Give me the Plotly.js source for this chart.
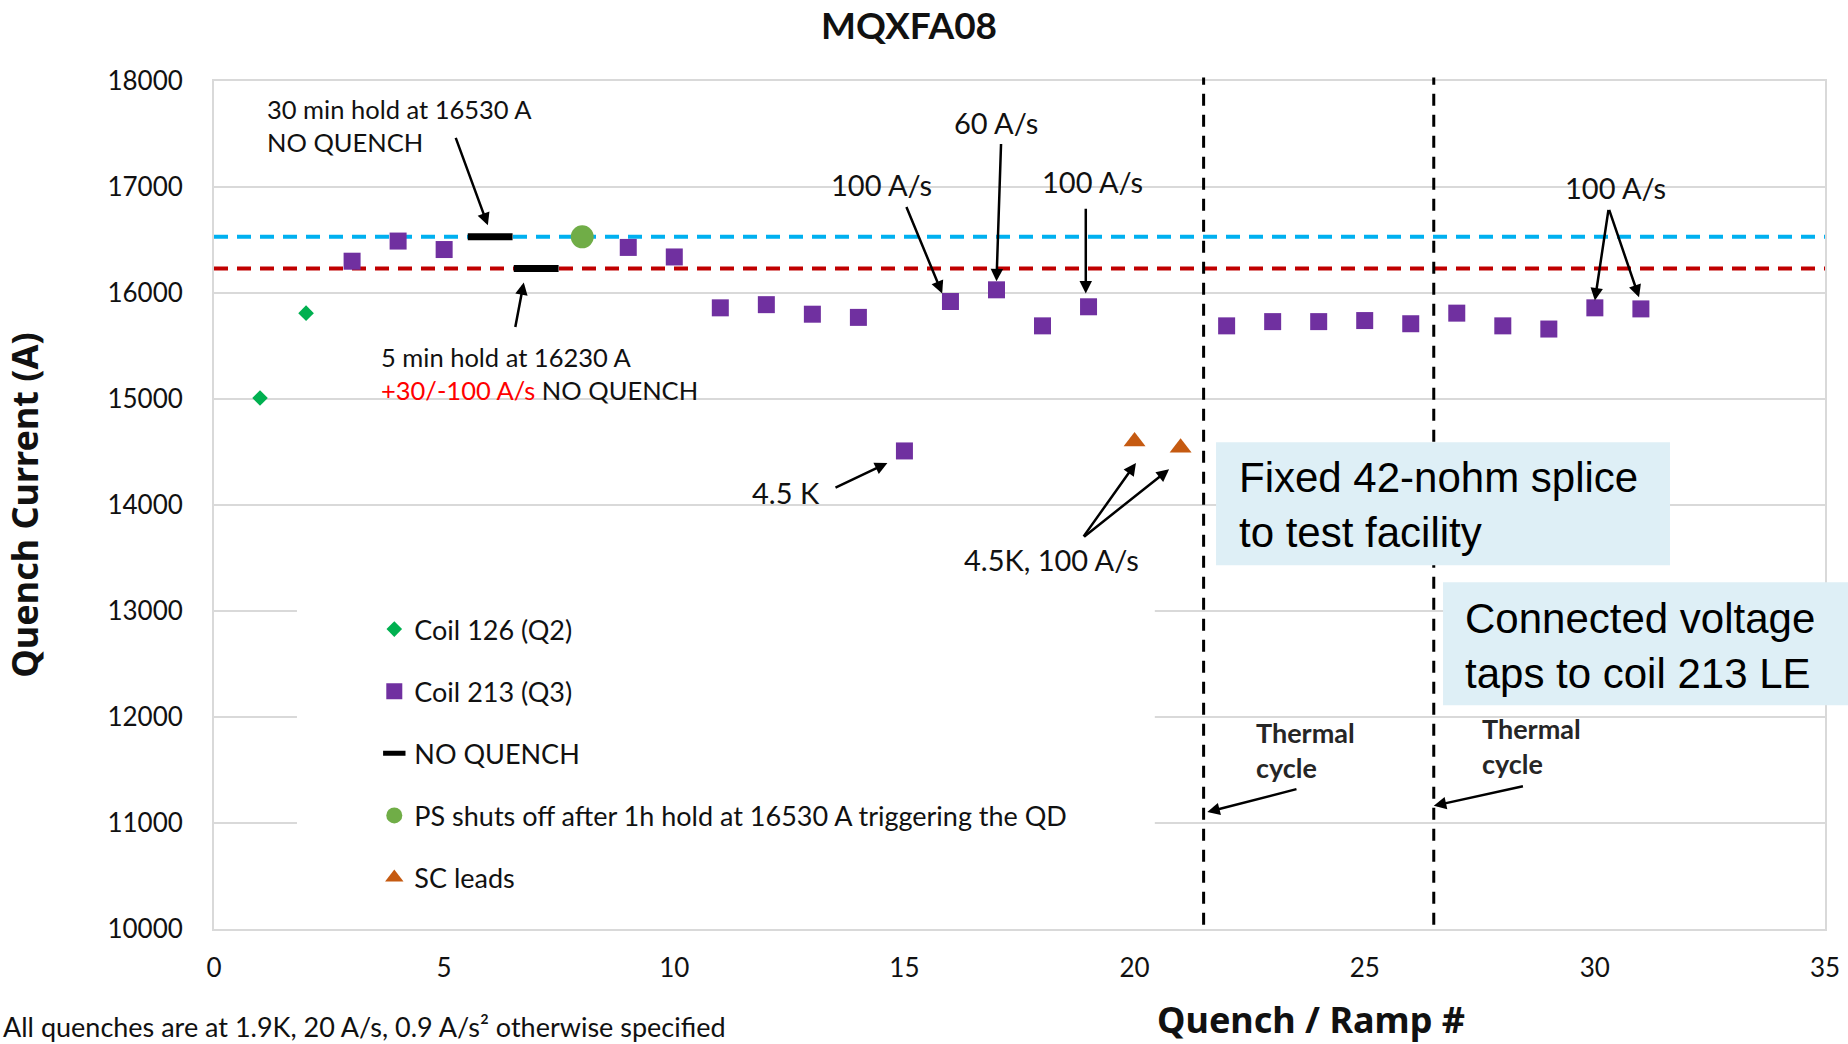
<!DOCTYPE html>
<html>
<head>
<meta charset="utf-8">
<script src="https://cdn.plot.ly/plotly-3.0.1.min.js"></script>
<style>
  html, body { margin: 0; padding: 0; background: #ffffff; }
  #chart { width: 1848px; height: 1044px; }
</style>
</head>
<body>
<div id="chart"></div>
<script>
// ---------------- data ----------------
const coil126X = [1, 2];
const coil126Y = [15010, 15810];

const coil213X = [3, 4, 5, 9, 10, 11, 12, 13, 14, 15, 16, 17, 18, 19, 22, 23, 24, 25, 26, 27, 28, 29, 30, 31];
const coil213Y = [16300, 16490, 16410, 16430, 16340, 15860, 15890, 15800, 15770, 14510, 15920, 16030, 15690, 15870,
                  15690, 15730, 15730, 15740, 15710, 15810, 15690, 15660, 15860, 15850];

const noQuenchX = [6, 7];
const noQuenchY = [16530, 16230];

const psOffX = [8];
const psOffY = [16530];

const scLeadsX = [20, 21];
const scLeadsY = [14600, 14540];

const holdLevels = [16530, 16230];          // dashed reference lines
const thermalCycleX = [21.5, 26.5];         // vertical dashed lines

const seriesNames = ['Coil 126 (Q2)', 'Coil 213 (Q3)', 'NO QUENCH',
  'PS shuts off after 1h hold at 16530 A triggering the QD', 'SC leads'];

const xTickVals = [0, 5, 10, 15, 20, 25, 30, 35];
const yTickVals = [10000, 11000, 12000, 13000, 14000, 15000, 16000, 17000, 18000];

// ---------------- styling ----------------
const FONT = 'Lato, "Open Sans", sans-serif';
const TXT = '#111111';

const traces = [
  { x: coil126X, y: coil126Y, name: seriesNames[0], mode: 'markers', type: 'scatter', legendgroup: 'g1',
    marker: { symbol: 'diamond', size: 12, color: '#00B050' } },
  { x: coil213X, y: coil213Y, name: seriesNames[1], mode: 'markers', type: 'scatter', legendgroup: 'g2',
    marker: { symbol: 'square', size: 17, color: '#7030A0' } },
  { x: noQuenchX, y: noQuenchY, name: seriesNames[2], mode: 'markers', type: 'scatter', legendgroup: 'g3',
    marker: { symbol: 'line-ew', size: 32, color: '#000000', line: { width: 7, color: '#000000' } } },
  { x: psOffX, y: psOffY, name: seriesNames[3], mode: 'markers', type: 'scatter', legendgroup: 'g4',
    marker: { symbol: 'circle', size: 23, color: '#70AD47' } },
  { x: scLeadsX, y: scLeadsY, name: seriesNames[4], mode: 'markers', type: 'scatter', legendgroup: 'g5',
    marker: { symbol: 'triangle-up', size: 19, color: '#C55A11' } }
];

const lineColors = ['#00B0F0', '#C00000'];
const shapes = [];
// white area behind legend (hides gridlines like the original)
shapes.push({ type: 'rect', xref: 'paper', yref: 'paper', x0: 0.0515, x1: 0.584, y0: 0.003, y1: 0.444,
  fillcolor: '#ffffff', line: { width: 0 }, layer: 'above' });
holdLevels.forEach((v, i) => shapes.push({
  type: 'line', xref: 'paper', yref: 'y', x0: 0, x1: 1, y0: v, y1: v,
  line: { color: lineColors[i], width: 4, dash: '14px,9px' }, layer: 'between'
}));
thermalCycleX.forEach(v => shapes.push({
  type: 'line', xref: 'x', yref: 'paper', x0: v, x1: v, y0: 0.005, y1: 1.004,
  line: { color: '#000000', width: 3, dash: '12px,9px' }, layer: 'above'
}));
// light-blue note boxes
shapes.push({ type: 'rect', xref: 'paper', yref: 'paper', x0: 0.622, x1: 0.9038, y0: 0.429, y1: 0.574,
  fillcolor: '#DEEFF6', line: { width: 0 }, layer: 'above' });
shapes.push({ type: 'rect', xref: 'paper', yref: 'paper', x0: 0.7629, x1: 1.03, y0: 0.264, y1: 0.409,
  fillcolor: '#DEEFF6', line: { width: 0 }, layer: 'above' });

const annFont = { family: FONT, size: 25.5, color: TXT };
const rateFont = { family: FONT, size: 29, color: TXT };
const cycleFont = { family: FONT, size: 27, weight: 'bold', color: '#262626' };
function txt(x, y, text, xanchor, font) {
  return { x: x, y: y, xref: 'x', yref: 'y', text: text, showarrow: false,
    xanchor: xanchor || 'center', yanchor: 'middle', align: xanchor === 'left' ? 'left' : 'center',
    font: font || annFont };
}
function arrow(tx, ty, hx, hy) {
  return { x: hx, y: hy, ax: tx, ay: ty, xref: 'x', yref: 'y', axref: 'x', ayref: 'y',
    text: '', showarrow: true, arrowhead: 2, arrowsize: 1, arrowwidth: 2.5, arrowcolor: '#000000',
    standoff: 0, startstandoff: 0 };
}

const annotations = [
  txt(1.10, 17580, '30 min hold at 16530 A<br>NO QUENCH', 'left'),
  arrow(5.24, 17477, 5.95, 16638),
  txt(3.595, 15242, '5 min hold at 16230 A<br><span style="color:#FF0000">+30/-100 A/s</span> NO QUENCH', 'left'),
  arrow(6.54, 15666, 6.73, 16100),
  txt(14.51, 17024, '100 A/s', 'center', rateFont),
  arrow(15.03, 16826, 15.82, 15996),
  txt(16.98, 17609, '60 A/s', 'center', rateFont),
  arrow(17.1, 17420, 17.0, 16110),
  txt(19.08, 17052, '100 A/s', 'center', rateFont),
  arrow(18.94, 16808, 18.94, 15996),
  txt(30.44, 16996, '100 A/s', 'center', rateFont),
  arrow(30.3, 16798, 30.0, 15930),
  arrow(30.3, 16798, 30.96, 15959),
  txt(12.42, 14115, '4.5 K', 'center', rateFont),
  arrow(13.47, 14158, 14.63, 14397),
  txt(18.20, 13488, '4.5K, 100 A/s', 'center', rateFont),
  arrow(18.87, 13690, 20.03, 14397),
  arrow(18.87, 13690, 20.75, 14337),
  txt(22.59, 11688, 'Thermal<br>cycle', 'left', cycleFont),
  arrow(23.55, 11323, 21.58, 11103),
  txt(27.50, 11726, 'Thermal<br>cycle', 'left', cycleFont),
  arrow(28.47, 11350, 26.5, 11162),
  // note boxes text
  { xref: 'paper', yref: 'paper', x: 0.635, y: 0.4997, xanchor: 'left', yanchor: 'middle', align: 'left',
    showarrow: false, text: 'Fixed 42-nohm splice<br>to test facility',
    font: { family: '"Liberation Sans", Arial, sans-serif', size: 42, color: '#000000' } },
  { xref: 'paper', yref: 'paper', x: 0.7753, y: 0.3341, xanchor: 'left', yanchor: 'middle', align: 'left',
    showarrow: false, text: 'Connected voltage<br>taps to coil 213 LE',
    font: { family: '"Liberation Sans", Arial, sans-serif', size: 42, color: '#000000' } },
  // x axis title
  { xref: 'paper', yref: 'paper', x: 0.681, y: -0.1073, xanchor: 'center', yanchor: 'middle', showarrow: false,
    text: 'Quench / Ramp #', font: { family: '"Noto Sans", sans-serif', size: 36, weight: 'bold', color: TXT } },
  // footnote
  { xref: 'paper', yref: 'paper', x: -0.1322, y: -0.1150, xanchor: 'left', yanchor: 'middle', showarrow: false,
    text: 'All quenches are at 1.9K, 20 A/s, 0.9 A/s² otherwise specified',
    font: { family: FONT, size: 27, color: TXT } }
];

const layout = {
  width: 1848, height: 1044,
  margin: { l: 214, r: 23, t: 80.5, b: 114.5, pad: 0 },
  paper_bgcolor: '#ffffff', plot_bgcolor: '#ffffff',
  font: { family: FONT, color: TXT },
  showlegend: true,
  title: { text: 'MQXFA08', font: { family: FONT, size: 37, weight: 'bold', color: TXT },
    x: 0.4919, xref: 'container', xanchor: 'center', y: 0.975, yref: 'container', yanchor: 'middle' },
  xaxis: {
    range: [0, 35], tickvals: xTickVals, ticktext: xTickVals.map(String),
    showgrid: false, zeroline: false, showline: true, mirror: true, linecolor: '#D9D9D9', linewidth: 2,
    ticks: '', ticklabelstandoff: 15, tickfont: { family: FONT, size: 26, color: TXT }
  },
  yaxis: {
    range: [10000, 18000], tickvals: yTickVals, ticktext: yTickVals.map(String),
    showgrid: true, gridcolor: '#D9D9D9', gridwidth: 2, zeroline: false,
    showline: true, mirror: true, linecolor: '#D9D9D9', linewidth: 2,
    ticks: '', ticklabelstandoff: 24, tickfont: { family: FONT, size: 26, color: TXT },
    title: { text: 'Quench Current (A)', standoff: 58,
      font: { family: '"Noto Sans", sans-serif', size: 36, weight: 'bold', color: TXT } },
    automargin: false
  },
  legend: {
    x: 0.0995, xanchor: 'left', y: 0.382, yanchor: 'top',
    bgcolor: 'rgba(0,0,0,0)', borderwidth: 0,
    font: { family: FONT, size: 27, color: TXT },
    traceorder: 'grouped', tracegroupgap: 24, itemsizing: 'trace'
  },
  shapes: shapes,
  annotations: annotations
};

Plotly.newPlot('chart', traces, layout, { displayModeBar: false, staticPlot: true });
</script>
</body>
</html>
